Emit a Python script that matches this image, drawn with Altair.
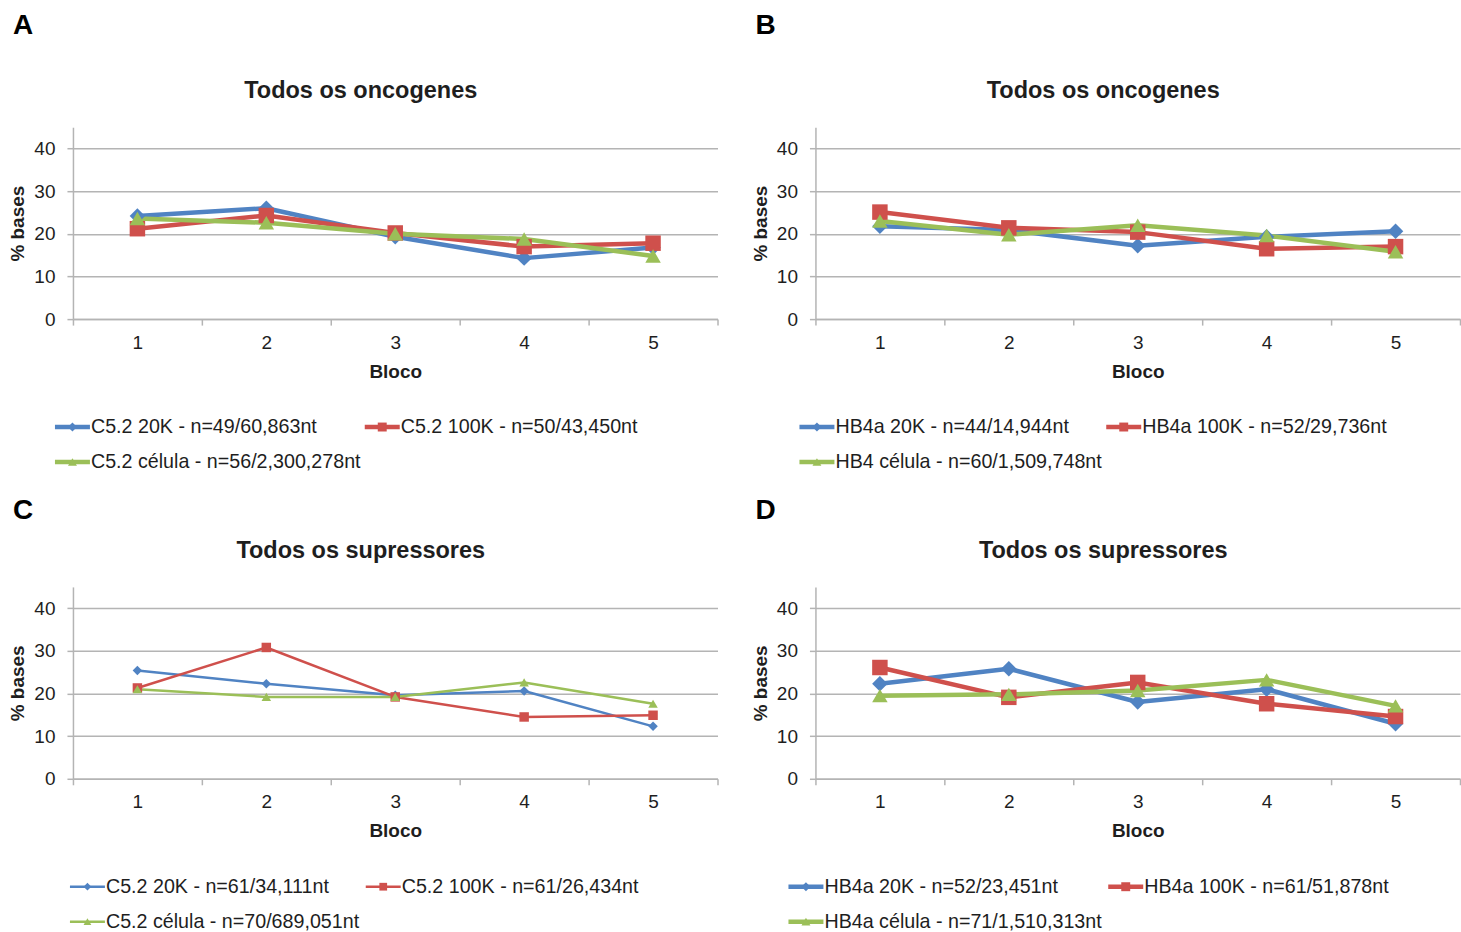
import altair as alt
import pandas as pd

# ---- data -----------------------------------------------------------------
BLOCOS = [1, 2, 3, 4, 5]
SERIES = ["20K", "100K", "célula"]

# A: oncogenes, C5.2
a_20k = [24.2, 26.0, 19.3, 14.3, 16.8]
a_100k = [21.2, 24.3, 20.2, 17.0, 17.8]
a_cel = [23.6, 22.6, 20.0, 18.8, 14.8]
a_labels = ["C5.2 20K - n=49/60,863nt", "C5.2 100K - n=50/43,450nt",
            "C5.2 célula - n=56/2,300,278nt"]

# B: oncogenes, HB4a
b_20k = [21.8, 20.9, 17.2, 19.3, 20.6]
b_100k = [25.1, 21.4, 20.4, 16.5, 17.0]
b_cel = [23.0, 19.8, 22.0, 19.6, 15.8]
b_labels = ["HB4a 20K - n=44/14,944nt", "HB4a 100K - n=52/29,736nt",
            "HB4 célula - n=60/1,509,748nt"]

# C: supressores, C5.2
c_20k = [25.4, 22.3, 19.6, 20.6, 12.3]
c_100k = [21.3, 30.8, 19.2, 14.5, 14.9]
c_cel = [21.0, 19.2, 19.2, 22.6, 17.6]
c_labels = ["C5.2 20K - n=61/34,111nt", "C5.2 100K - n=61/26,434nt",
            "C5.2 célula - n=70/689,051nt"]

# D: supressores, HB4a
d_20k = [22.3, 25.8, 18.0, 21.0, 12.9]
d_100k = [26.1, 19.1, 22.6, 17.6, 14.6]
d_cel = [19.5, 19.8, 20.7, 23.2, 17.1]
d_labels = ["HB4a 20K - n=52/23,451nt", "HB4a 100K - n=61/51,878nt",
            "HB4a célula - n=71/1,510,313nt"]

# ---- style ----------------------------------------------------------------
FONT = "Liberation Sans"
COLORS = ["#5083c3", "#cf504c", "#9bbf58"]
SHAPES = ["diamond", "square", "triangle-up"]
PLOT_W, PLOT_H = 645, 192
TEXT = "#1e1e1e"
GRAY = "#b4b4b4"

color_scale = alt.Scale(domain=SERIES, range=COLORS)
shape_scale = alt.Scale(domain=SERIES, range=SHAPES)


def make_panel(letter, letter_y, title, values, labels, thick, legend_cols):
    rows = []
    for key, vals in zip(SERIES, values):
        for b, v in zip(BLOCOS, vals):
            rows.append({"Bloco": b, "serie": key, "valor": v})
    df = pd.DataFrame(rows)

    lw = 4.5 if thick else 2.5
    msize = 240 if thick else 90

    x = alt.X(
        "Bloco:O",
        bandPosition=0.5,
        scale=alt.Scale(type="band", paddingInner=0, paddingOuter=0),
        axis=alt.Axis(
            title="Bloco", labelAngle=0, tickBand="extent", grid=False,
            domainColor=GRAY, domainWidth=1.5, tickColor=GRAY, tickWidth=1.5,
            tickSize=6, labelPadding=8, labelFontSize=19, labelColor=TEXT,
            titleFontSize=19, titleFontWeight="bold", titleColor=TEXT,
            titlePadding=10, labelFont=FONT, titleFont=FONT,
        ),
    )
    y = alt.Y(
        "valor:Q",
        scale=alt.Scale(domain=[0, 45], nice=False, zero=True),
        axis=alt.Axis(
            title="% bases", values=[0, 10, 20, 30, 40], grid=True,
            gridColor=GRAY, gridWidth=1.5, domainColor=GRAY, domainWidth=1.5,
            tickColor=GRAY, tickWidth=1.5, tickSize=6, labelPadding=12,
            labelFontSize=19, labelColor=TEXT, titleFontSize=19,
            titleFontWeight="bold", titleColor=TEXT, titlePadding=6,
            labelFont=FONT, titleFont=FONT,
        ),
    )
    color = alt.Color("serie:N", scale=color_scale, legend=None)
    shape = alt.Shape("serie:N", scale=shape_scale, legend=None)

    base = alt.Chart(df)
    lines = base.mark_line(strokeWidth=lw, strokeJoin="round").encode(
        x=x, y=y, color=color, order=alt.Order("Bloco:O"))
    points = base.mark_point(filled=True, size=msize, opacity=1,
                             strokeWidth=1).encode(
        x=alt.X("Bloco:O", bandPosition=0.5), y="valor:Q",
        color=color, shape=shape)

    # legend drawn beneath the plot: line segment + marker + label
    cols = [0, 1, 0]
    rws = [0, 0, 1]
    leg = pd.DataFrame({"serie": SERIES, "label": labels})
    leg["x1"] = [legend_cols[c] for c in cols]
    leg["x2"] = leg["x1"] + 35
    leg["xm"] = leg["x1"] + 17.5
    leg["tx"] = leg["x1"] + 36
    leg["ly"] = [300 + 35 * r for r in rws]

    lbase = alt.Chart(leg)
    leg_lines = lbase.mark_rule(strokeWidth=4.5 if thick else 2.5).encode(
        x=alt.X("x1:Q", scale=None, axis=None), x2="x2:Q",
        y=alt.Y("ly:Q", scale=None, axis=None), color=color)
    leg_pts = lbase.mark_point(filled=True, size=80 if thick else 60,
                               opacity=1).encode(
        x=alt.X("xm:Q", scale=None, axis=None),
        y=alt.Y("ly:Q", scale=None, axis=None), color=color, shape=shape)
    leg_txt = lbase.mark_text(align="left", baseline="middle", font=FONT,
                              fontSize=19.7, color=TEXT).encode(
        x=alt.X("tx:Q", scale=None, axis=None),
        y=alt.Y("ly:Q", scale=None, axis=None), text="label:N")

    title_mark = alt.Chart(pd.DataFrame({"t": [title]})).mark_text(
        font=FONT, fontSize=23.5, fontWeight="bold", color=TEXT,
        align="center", baseline="middle").encode(
        x=alt.value(288), y=alt.value(-36), text="t:N")
    letter_mark = alt.Chart(pd.DataFrame({"t": [letter]})).mark_text(
        font=FONT, fontSize=28, fontWeight="bold", color="#000000",
        align="center", baseline="middle").encode(
        x=alt.value(-50), y=alt.value(letter_y), text="t:N")

    return alt.layer(lines, points, leg_lines, leg_pts, leg_txt,
                     title_mark, letter_mark).properties(
        width=PLOT_W, height=PLOT_H)


pA = make_panel("A", -101, "Todos os oncogenes", [a_20k, a_100k, a_cel],
                a_labels, True, (-18, 292))
pB = make_panel("B", -101, "Todos os oncogenes", [b_20k, b_100k, b_cel],
                b_labels, True, (-16, 291))
pC = make_panel("C", -76, "Todos os supressores", [c_20k, c_100k, c_cel],
                c_labels, False, (-3, 293))
pD = make_panel("D", -76, "Todos os supressores", [d_20k, d_100k, d_cel],
                d_labels, True, (-27, 293))

chart = alt.vconcat(
    alt.hconcat(pA, pB, spacing=32),
    alt.hconcat(pC, pD, spacing=32),
    spacing=25,
).properties(
    padding={"left": 8, "top": 12, "right": 0, "bottom": 0},
    background="white",
).configure(font=FONT).configure_view(strokeWidth=0, stroke="transparent")

chart.save("out.html", embed_options={"renderer": "svg", "actions": False})
